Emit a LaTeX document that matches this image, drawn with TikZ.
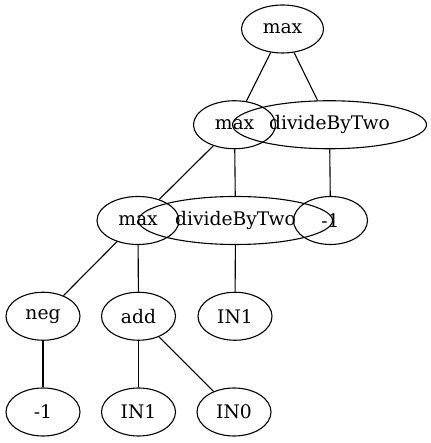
\documentclass[tikz,border=0pt]{standalone}
\usepackage{fontspec}
\setmainfont{DejaVu Serif}
\usetikzlibrary{shapes.geometric}

\begin{document}
\begin{tikzpicture}[
  x=1pt, y=1pt,
  op/.style={ellipse, draw=black, line width=1.1pt, inner sep=0pt,
             minimum width=74pt, minimum height=48pt,
             font=\fontsize{18.7}{22}\selectfont},
  wideop/.style={op, minimum width=82pt},
  longop/.style={op, minimum width=194pt},
  link/.style={draw=black, line width=1.1pt}
]
\useasboundingbox (0,0) rectangle (430,443);

\node[wideop] (top) at (282.5,414) {max};
\node[wideop] (maxa) at (234.5,318.25) {max};
\node[longop] (diva) at (329.5,318.25) {divideByTwo};
\node[wideop] (maxb) at (138,222.5) {max};
\node[longop] (divb) at (235.5,222.5) {divideByTwo};
\node[op] (mina) at (330.5,222.5) {-1};
\node[op] (neg) at (43,126.75) {neg};
\node[op] (add) at (138.5,126.75) {add};
\node[op] (ina) at (235,126.75) {IN1};
\node[op] (minb) at (43,31) {-1};
\node[op] (inb) at (138.5,31) {IN1};
\node[op] (inz) at (234,31) {IN0};

\draw[link] (top) -- (maxa);
\draw[link] (top) -- (diva);
\draw[link] (maxa) -- (maxb);
\draw[link] (maxa) -- (divb);
\draw[link] (diva) -- (mina);
\draw[link] (maxb) -- (neg);
\draw[link] (maxb) -- (add);
\draw[link] (divb) -- (ina);
\draw[link] (neg) -- (minb);
\draw[link] (add) -- (inb);
\draw[link] (add) -- (inz);
\end{tikzpicture}
\end{document}
